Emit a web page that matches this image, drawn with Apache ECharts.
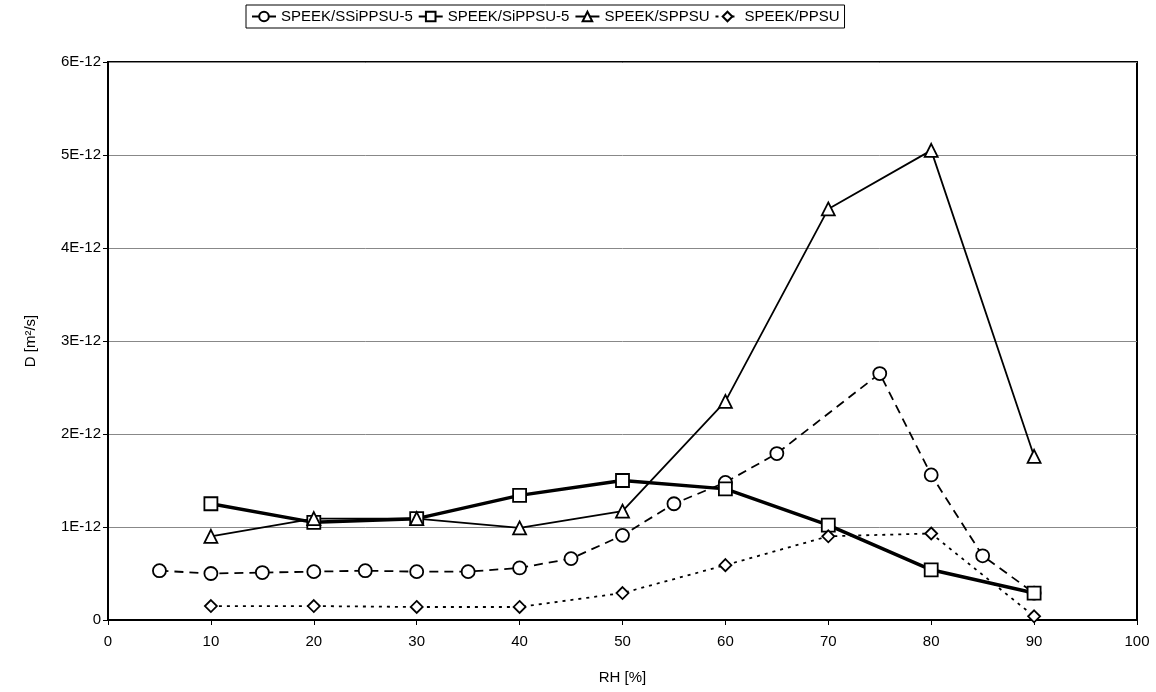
<!DOCTYPE html>
<html>
<head>
<meta charset="utf-8">
<script src="https://cdn.jsdelivr.net/npm/echarts@6/dist/echarts.min.js"></script>
<style>
  html, body { margin: 0; padding: 0; background: #fff; }
  #chart { width: 1156px; height: 692px; }
</style>
</head>
<body>
<div id="chart"></div>
<script>
// values in units of 1E-12 m2/s
const rhSSi = [5, 10, 15, 20, 25, 30, 35, 40, 45, 50, 55, 60, 65, 75, 80, 85, 90]
const dSSi = [0.53, 0.50, 0.51, 0.52, 0.53, 0.52, 0.52, 0.56, 0.66, 0.91, 1.25, 1.48, 1.79, 2.65, 1.56, 0.69, 0.29]

const rhSi = [10, 20, 30, 40, 50, 60, 70, 80, 90]
const dSi = [1.25, 1.05, 1.09, 1.34, 1.50, 1.41, 1.02, 0.54, 0.29]

const rhSP = [10, 20, 30, 40, 50, 60, 70, 80, 90]
const dSP = [0.90, 1.09, 1.09, 0.99, 1.17, 2.35, 4.42, 5.05, 1.76]

const rhP = [10, 20, 30, 40, 50, 60, 70, 80, 90]
const dP = [0.15, 0.15, 0.14, 0.14, 0.29, 0.59, 0.90, 0.93, 0.04]

const names = ['SPEEK/SSiPPSU-5', 'SPEEK/SiPPSU-5', 'SPEEK/SPPSU', 'SPEEK/PPSU']

const pairs = (xs, ys) => xs.map((x, i) => [x, ys[i]])
const font = 'Liberation Sans'

const mkSeries = (name, data, symbol, size, width, type) => ({
  name,
  type: 'line',
  data,
  symbol,
  symbolSize: size,
  showAllSymbol: true,
  lineStyle: { color: '#000', width, type },
  itemStyle: { color: '#fff', borderColor: '#000', borderWidth: 1.8 },
  emphasis: { disabled: true },
  z: 3
})

const chart = echarts.init(document.getElementById('chart'))
chart.setOption({
  animation: false,
  textStyle: { fontFamily: font },
  legend: {
    data: names,
    top: 5,
    left: 246,
    padding: [4, 5],
    itemGap: 5,
    itemWidth: 24,
    itemHeight: 12,
    borderColor: '#000',
    borderWidth: 1,
    textStyle: { fontFamily: font, fontSize: 15, color: '#000' }
  },
  grid: {
    left: 108, right: 19, top: 62, bottom: 72,
    show: true, borderColor: '#000', borderWidth: 2, backgroundColor: '#fff'
  },
  xAxis: {
    type: 'value',
    min: 0, max: 100, interval: 10,
    name: 'RH [%]',
    nameLocation: 'middle',
    nameGap: 50,
    nameTextStyle: { fontFamily: font, fontSize: 15, color: '#000' },
    axisLine: { lineStyle: { color: '#000', width: 2 } },
    axisTick: { show: true, length: 5, lineStyle: { color: '#000' } },
    axisLabel: { fontFamily: font, fontSize: 15, color: '#000', margin: 14 },
    splitLine: { show: false }
  },
  yAxis: {
    type: 'value',
    min: 0, max: 6, interval: 1,
    name: 'D [m²/s]',
    nameLocation: 'middle',
    nameGap: 70,
    nameRotate: 90,
    nameTextStyle: { fontFamily: font, fontSize: 15, color: '#000' },
    axisLine: { lineStyle: { color: '#000', width: 2 } },
    axisTick: { show: true, length: 5, lineStyle: { color: '#000' } },
    axisLabel: {
      fontFamily: font, fontSize: 15, color: '#000', margin: 7,
      formatter: v => v === 0 ? '0' : v + 'E-12'
    },
    splitLine: { lineStyle: { color: '#888', width: 1 } }
  },
  series: [
    mkSeries(names[0], pairs(rhSSi, dSSi), 'circle', 13, 1.8, [9, 6]),
    mkSeries(names[1], pairs(rhSi, dSi), 'rect', 13, 3.5, 'solid'),
    mkSeries(names[2], pairs(rhSP, dSP), 'triangle', 13, 1.8, 'solid'),
    mkSeries(names[3], pairs(rhP, dP), 'diamond', 12, 1.8, [3, 5])
  ]
})
</script>
</body>
</html>
